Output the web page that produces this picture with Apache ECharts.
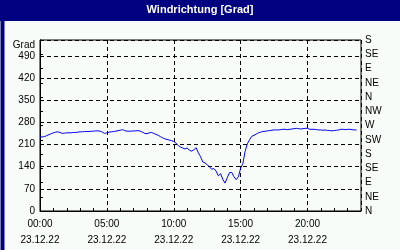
<!DOCTYPE html>
<html>
<head>
<meta charset="utf-8">
<script src="https://cdn.jsdelivr.net/npm/echarts@6/dist/echarts.min.js"></script>
<style>
html,body{margin:0;padding:0;background:#f8fcf8;}
#c{width:400px;height:250px;}
</style>
</head>
<body>
<div id="c"></div>
<script>
const titleText = 'Windrichtung [Grad]';
const unitLabel = 'Grad';
const dateLabel = '23.12.22';
const xTickLabels = ['00:00', '05:00', '10:00', '15:00', '20:00'];
const compassLabels = ['N', 'NE', 'E', 'SE', 'S', 'SW', 'W', 'NW'];
const stepMinutes = 10; // sampling interval, starting at 00:00
const direction = [
  234, 234, 235, 238, 241, 244, 247, 249, 250, 248,
  245, 246, 247, 247, 247, 248, 248, 249, 250, 250,
  251, 251, 251, 252, 252, 253, 253, 252, 249, 245,
  247, 249, 250, 251, 252, 254, 255, 257, 254, 252,
  252, 252, 253, 253, 254, 252, 249, 245, 244, 247,
  248, 245, 242, 239, 235, 231, 228, 226, 224, 222,
  220, 214, 207, 202, 199, 196, 199, 192, 189, 193,
  200, 184, 172, 155, 152, 146, 140, 132, 134, 126,
  111, 118, 100, 88, 105, 121, 122, 108, 99, 108,
  135, 150, 188, 212, 225, 236, 239, 243, 247, 249,
  251, 252, 253, 254, 255, 256, 256, 256, 257, 258,
  258, 257, 258, 259, 260, 261, 260, 259, 260, 261,
  261, 258, 258, 258, 257, 256, 256, 255, 256, 254,
  254, 253, 254, 255, 256, 258, 258, 257, 258, 258,
  257, 256, 256
];

const seriesData = direction.map((v, i) => [i * stepMinutes / 60, v]);
const FONT = 'Liberation Sans';
const chart = echarts.init(document.getElementById('c'), null, {renderer: 'canvas'});
chart.setOption({
  backgroundColor: '#f8fcf8',
  animation: false,
  grid: {left: 40, right: 39, top: 40, bottom: 39, show: true, borderColor: '#000', borderWidth: 1, backgroundColor: 'transparent'},
  graphic: [
    {type: 'rect', left: 0, top: 0, shape: {width: 400, height: 21}, style: {fill: '#000080'}, z: 10},
    {type: 'rect', left: 0, top: 0, shape: {width: 400, height: 250}, style: {fill: 'none', stroke: '#000080', lineWidth: 4}, z: 10, silent: true},
    {type: 'text', left: 'center', top: 4, style: {text: titleText, fill: '#fff', font: 'bold 11px "' + FONT + '"'}, z: 11},
    {type: 'text', right: 365, top: 40, style: {text: unitLabel, fill: '#000', font: '10px "' + FONT + '"', textAlign: 'right'}, z: 11}
  ],
  xAxis: [{
    type: 'value', min: 0, max: 24, interval: 5,
    axisLine: {show: true, lineStyle: {color: '#000', width: 1}},
    axisTick: {show: false},
    splitLine: {show: true, lineStyle: {color: '#000', type: [4, 3], width: 1}},
    axisLabel: {
      color: '#000', fontFamily: FONT, fontSize: 10, margin: 5, lineHeight: 16,
      formatter: v => (v % 5 === 0 && v < 24) ? xTickLabels[v / 5] + '\n' + dateLabel : ''
    }
  }, {
    type: 'value', min: 0, max: 24, interval: 1, position: 'bottom',
    axisLine: {show: false},
    axisTick: {show: true, inside: true, length: 3, lineStyle: {color: '#000'}},
    splitLine: {show: false},
    axisLabel: {show: false}
  }],
  yAxis: [{
    type: 'value', min: 0, max: 540, interval: 70, position: 'left',
    axisLine: {show: true, lineStyle: {color: '#000'}},
    axisTick: {show: false},
    splitLine: {show: true, lineStyle: {color: '#000', type: [4, 3], width: 1}},
    axisLabel: {color: '#000', fontFamily: FONT, fontSize: 10, margin: 5, formatter: v => v >= 540 ? '' : String(v)}
  }, {
    type: 'value', min: 0, max: 540, interval: 45, position: 'right',
    axisLine: {show: true, lineStyle: {color: '#000'}},
    axisTick: {show: true, inside: false, length: 3, lineStyle: {color: '#000'}},
    splitLine: {show: false},
    axisLabel: {color: '#000', fontFamily: FONT, fontSize: 10, margin: 4, formatter: v => compassLabels[Math.round(v / 45) % 8]}
  }],
  series: [{
    type: 'line', xAxisIndex: 0, yAxisIndex: 0, data: seriesData,
    showSymbol: false, symbol: 'none',
    lineStyle: {color: '#0000ff', width: 1}
  }]
});
</script>
</body>
</html>
